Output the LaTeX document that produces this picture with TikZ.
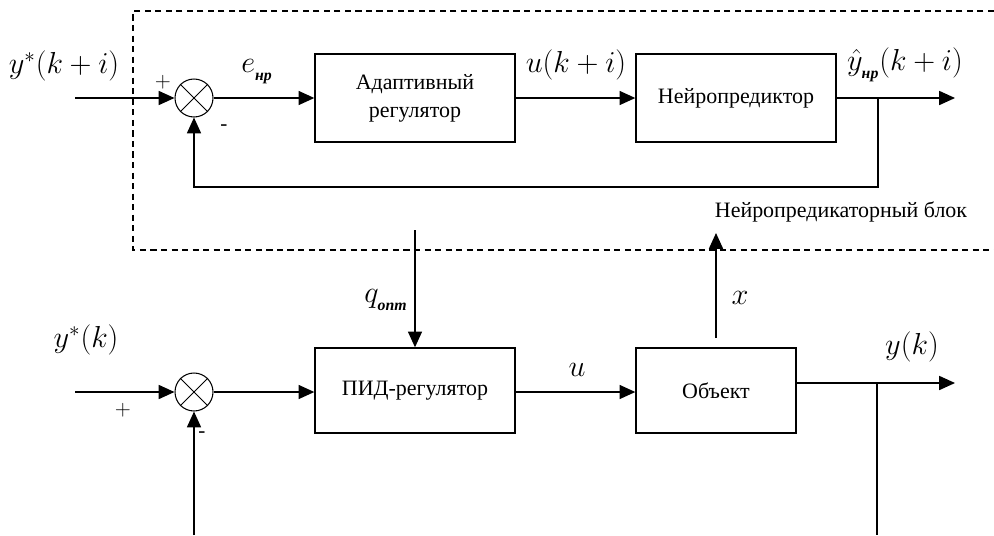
\documentclass[tikz,border=0pt]{standalone}
\usepackage{fontspec}
\setmainfont{Liberation Serif}
\usetikzlibrary{arrows.meta,calc,positioning}
\tikzset{
  sig line/.style={line width=.8pt,-{Triangle[length=9pt,width=8pt]}},
  plain line/.style={line width=.8pt},
  block/.style={draw,line width=.8pt,align=center,inner sep=2pt,
    font=\fontsize{12.5}{16}\selectfont},
  summer/.style={draw,circle,line width=.6pt,minimum size=.76cm,inner sep=0pt},
  sig label/.style={font=\fontsize{17}{20}\selectfont,inner sep=1pt},
  sign label/.style={font=\large,inner sep=1pt},
  block frame/.style={line width=.7pt,dash pattern=on 3.5pt off 2.5pt}
}
\newcommand{\SumCross}[1]{\draw[line width=.5pt] (#1.north west) -- (#1.south east) (#1.north east) -- (#1.south west);}
\newcommand{\CyrSub}[1]{\lower2pt\hbox{\fontsize{9}{9}\selectfont\itshape\bfseries #1}}

\begin{document}
\begin{tikzpicture}[x=0.02cm,y=-0.02cm,line cap=butt,line join=miter]
  \useasboundingbox (0,0) rectangle (994,535);

  % neuro-predictor block (upper loop)
  \coordinate (inA)  at (75,98);
  \coordinate (brA)  at (878,98);
  \coordinate (outA) at (955,98);
  \coordinate (fbA)  at (878,187);
  \node[summer] (sumA) at (194,98) {};
  \node[block,minimum width=4cm,minimum height=1.76cm] (adapt) at (415,98) {Адаптивный\\регулятор};
  \node[block,minimum width=4cm,minimum height=1.76cm] (npred) at (736,98) {Нейропредиктор};
  \SumCross{sumA}

  \draw[sig line] (inA) -- (sumA.west);
  \draw[sig line] (sumA.east) -- (adapt.west);
  \draw[sig line] (adapt.east) -- (npred.west);
  \draw[sig line] (npred.east) -- (outA);
  \draw[sig line] (brA) -- (fbA) -| (sumA.south);

  \draw[block frame] (994,11) -- (133,11) -- (133,250) -- (994,250);

  % main loop (lower)
  \coordinate (inB)  at (75,392);
  \coordinate (outB) at (955,383);
  \coordinate (brB)  at (877,383);
  \coordinate (fbB)  at (877,535);
  \coordinate (fbS)  at (194,535);
  \coordinate (qtop) at (415,230);
  \coordinate (xbot) at (716,338);
  \coordinate (xtop) at (716,233);
  \node[summer] (sumB) at (194,392) {};
  \node[block,minimum width=4cm,minimum height=1.7cm] (pid) at (415,390.5) {ПИД-регулятор};
  \node[block,minimum width=3.2cm,minimum height=1.7cm] (obj) at (716,390.5) {Объект};
  \SumCross{sumB}

  \draw[sig line] (inB) -- (sumB.west);
  \draw[sig line] (sumB.east) -- (pid.west|-sumB.east);
  \draw[sig line] (pid.east|-sumB.east) -- (obj.west|-sumB.east);
  \draw[sig line] (obj.east|-outB) -- (outB);
  \draw[plain line] (brB) -- (fbB);
  \draw[sig line] (fbS) -- (sumB.south);
  \draw[sig line] (qtop) -- (qtop|-pid.north);
  \draw[sig line] (xbot) -- (xtop);

  % labels
  \node[sig label] (lyA) at (64,66) {$y^{*}(k+i)$};
  \node[sign label] at (163,82) {$+$};
  \node[sign label] at (224,128) {-};
  \node[sig label] (le) at (257,72) {$e_{\CyrSub{нр}}$};
  \node[sig label] (luA) at (576,65) {$u(k+i)$};
  \node[sig label] (lyhat) at (905,65) {$\hat{y}_{\CyrSub{нр}}(k+i)$};
  \node[font=\fontsize{12.5}{14}\selectfont] (lblock) at (841,212) {Нейропредикаторный блок};
  \node[sig label] (lq) at (386,300) {$q_{\CyrSub{опт}}$};
  \node[sig label] (lx) at (740,298) {$x$};
  \node[sig label] (lyB) at (86,340) {$y^{*}(k)$};
  \node[sign label] at (123,410) {$+$};
  \node[sign label] at (202,435) {-};
  \node[sig label] (luB) at (577,370) {$u$};
  \node[sig label] (lyk) at (912,347) {$y(k)$};
\end{tikzpicture}
\end{document}
